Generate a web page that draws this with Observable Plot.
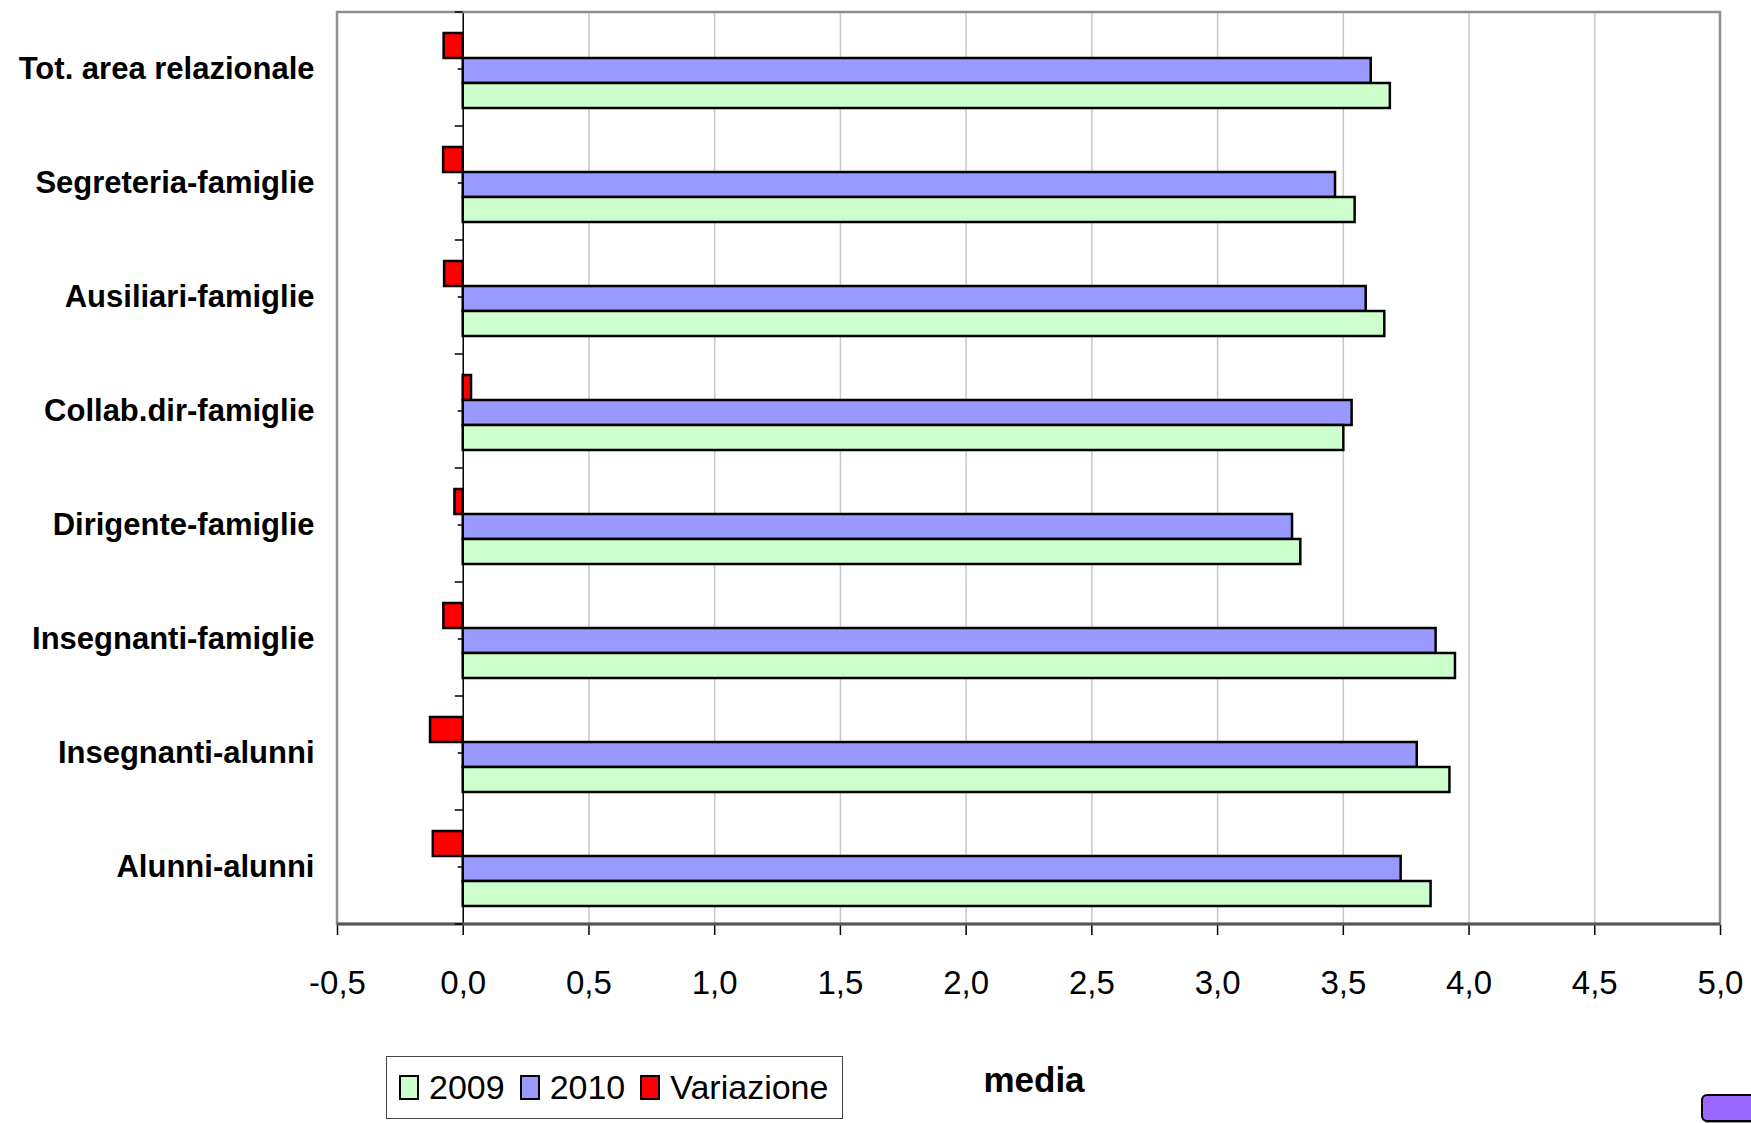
<!DOCTYPE html>
<html>
<head>
<meta charset="utf-8">
<script src="https://cdn.jsdelivr.net/npm/d3@7"></script>
<script src="https://cdn.jsdelivr.net/npm/@observablehq/plot@0.6"></script>
<style>
  html, body { margin: 0; padding: 0; background: #fff; }
  body { width: 1751px; height: 1123px; position: relative; overflow: hidden; font-family: "Liberation Sans", Arial, sans-serif; }
  #chart { position: absolute; left: 0; top: 0; }
  #legend { position: absolute; left: 386px; top: 1056px; width: 457px; height: 63px; border: 1.5px solid #444; box-sizing: border-box; display: flex; align-items: center; font-size: 34px; color: #000; }
  .sw { display: inline-block; width: 16px; height: 21px; border: 2.5px solid #000; margin-left: 15px; margin-right: 10px; }
  .sw:first-child { margin-left: 12px; }
  .lab { display: inline-block; }
  #xlabel { position: absolute; left: 1034px; top: 1080px; transform: translate(-50%, -50%); font-size: 35px; font-weight: bold; color: #000; }
  #blob { position: absolute; left: 1701px; top: 1094px; width: 70px; height: 24px; background: #9966ff; border: 2px solid #000; border-radius: 6px; box-shadow: 3px 3px 0 #999; }
</style>
</head>
<body>
<div id="chart"></div>
<div id="legend"></div>
<div id="xlabel">media</div>
<div id="blob"></div>
<script>
// ---- data ----
const categories = [
  "Tot. area relazionale",
  "Segreteria-famiglie",
  "Ausiliari-famiglie",
  "Collab.dir-famiglie",
  "Dirigente-famiglie",
  "Insegnanti-famiglie",
  "Insegnanti-alunni",
  "Alunni-alunni"
];
const v2009 = [3.687, 3.547, 3.665, 3.502, 3.331, 3.946, 3.924, 3.849];
const v2010 = [3.611, 3.469, 3.591, 3.535, 3.298, 3.869, 3.794, 3.730];
const variazione = [-0.076, -0.078, -0.074, 0.033, -0.033, -0.077, -0.130, -0.119];
const seriesNames = ["Variazione", "2010", "2009"];       // top-to-bottom order within a category
const legendNames = ["2009", "2010", "Variazione"];
const seriesColors = ["#ff0000", "#9999ff", "#ccffcc"];
const xTicks = [-0.5, 0, 0.5, 1, 1.5, 2, 2.5, 3, 3.5, 4, 4.5, 5];
const gridTicks = [0.5, 1, 1.5, 2, 2.5, 3, 3.5, 4, 4.5];
const xLabel = "media";

(function () {
  // ---- table ----
  const table = categories.flatMap((c, i) => [
    {category: c, series: "Variazione", value: variazione[i]},
    {category: c, series: "2010", value: v2010[i]},
    {category: c, series: "2009", value: v2009[i]}
  ]);
  const fmt = d => d3.format(".1f")(d).replace(".", ",").replace("−", "-");

  const W = 1751, H = 1040;
  const plot = Plot.plot({
    width: W,
    height: H,
    marginTop: 11,
    marginBottom: 115,
    marginLeft: 337,
    marginRight: 31,
    style: {fontFamily: "'Liberation Sans', Arial, sans-serif", fontSize: "33px", color: "#000", background: "#fff", overflow: "visible"},
    facet: {data: table, y: "category"},
    fy: {domain: categories, padding: 0, label: null, axis: "left", tickSize: 0, tickPadding: 23},
    y: {domain: seriesNames, paddingInner: 0, paddingOuter: 0.76, align: 0.53, axis: null},
    x: {domain: [-0.5, 5], ticks: xTicks, tickFormat: fmt, tickSize: 11, tickPadding: 35, label: null},
    color: {domain: seriesNames, range: seriesColors},
    marks: [
      Plot.ruleX(gridTicks, {stroke: "#c8c8c8", strokeWidth: 1.5}),
      Plot.ruleX([0], {stroke: "#000", strokeWidth: 1.5}),
      Plot.barX(table, {x1: 0, x2: "value", y: "series", fill: "series", stroke: "#000", strokeWidth: 2.5})
    ]
  });
  document.getElementById("chart").appendChild(plot);

  // ---- post-process: frame, category ticks, label styling ----
  const svg = d3.select(plot);
  const xs = plot.scale("x");
  const fys = plot.scale("fy");
  const X = v => xs.apply(v);
  const bw = fys.bandwidth;
  const FY = c => fys.apply(c);
  const yTop = FY(categories[0]);
  const yBottom = FY(categories[categories.length - 1]) + bw;
  const xLeft = X(xTicks[0]), xRight = X(xTicks[xTicks.length - 1]);
  const g = svg.append("g");
  g.append("rect").attr("x", xLeft).attr("y", yTop).attr("width", xRight - xLeft).attr("height", yBottom - yTop)
    .attr("fill", "none").attr("stroke", "#8f8f8f").attr("stroke-width", 2.5);
  g.append("line").attr("x1", xLeft).attr("x2", xRight).attr("y1", yBottom).attr("y2", yBottom)
    .attr("stroke", "#555").attr("stroke-width", 3);
  const x0 = X(0);
  categories.forEach(c => {
    const y0 = FY(c);
    g.append("line").attr("x1", x0 - 8).attr("x2", x0).attr("y1", y0).attr("y2", y0).attr("stroke", "#000").attr("stroke-width", 1.5);
    g.append("line").attr("x1", x0 - 5).attr("x2", x0).attr("y1", y0 + bw / 2).attr("y2", y0 + bw / 2).attr("stroke", "#000").attr("stroke-width", 1.5);
  });
  g.append("line").attr("x1", x0 - 8).attr("x2", x0).attr("y1", yBottom).attr("y2", yBottom).attr("stroke", "#000").attr("stroke-width", 1.5);
  svg.selectAll('[aria-label^="x-axis"] line, [aria-label^="x-axis"] path').attr("stroke", "#000").attr("stroke-width", 1.5);
  svg.selectAll('[aria-label^="fy-axis"] text').style("font-weight", "bold").style("font-size", "31px");

  // ---- legend ----
  const leg = d3.select("#legend");
  legendNames.forEach(n => {
    leg.append("span").attr("class", "sw").style("background", seriesColors[seriesNames.indexOf(n)]);
    leg.append("span").attr("class", "lab").text(n);
  });
  document.getElementById("xlabel").textContent = xLabel;
})();
</script>
</body>
</html>
